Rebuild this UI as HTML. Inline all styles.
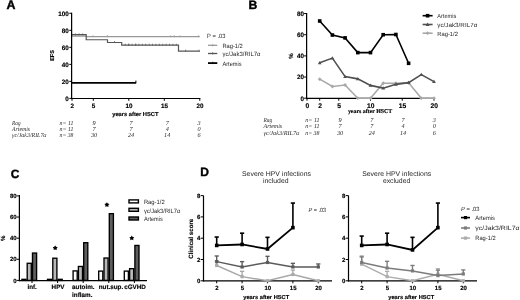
<!DOCTYPE html>
<html><head><meta charset="utf-8"><style>
html,body{margin:0;padding:0;background:#fff;}
body{width:520px;height:300px;overflow:hidden;font-family:"Liberation Sans", sans-serif;}
svg{display:block;will-change:transform;}
</style></head><body>
<svg width="520" height="300" viewBox="0 0 520 300" text-rendering="geometricPrecision">
<rect x="0" y="0" width="520" height="300" fill="#fff"/>
<text x="6.60" y="8.60" font-family="'Liberation Sans', sans-serif" font-size="12.4" font-weight="bold" font-style="normal" text-anchor="start" fill="#000" stroke="#000" stroke-width="0.4" >A</text>
<line x1="72.00" y1="36.11" x2="86.20" y2="36.11" stroke="#999" stroke-width="1.3"/>
<line x1="86.20" y1="36.70" x2="199.80" y2="36.70" stroke="#999" stroke-width="1.2"/>
<line x1="93.09" y1="35.20" x2="93.09" y2="37.20" stroke="#999" stroke-width="0.7"/>
<line x1="107.43" y1="35.20" x2="107.43" y2="37.20" stroke="#999" stroke-width="0.7"/>
<line x1="170.69" y1="35.20" x2="170.69" y2="37.20" stroke="#999" stroke-width="0.7"/>
<line x1="174.24" y1="35.20" x2="174.24" y2="37.20" stroke="#999" stroke-width="0.7"/>
<line x1="179.92" y1="35.20" x2="179.92" y2="37.20" stroke="#999" stroke-width="0.7"/>
<line x1="198.38" y1="35.20" x2="198.38" y2="37.20" stroke="#999" stroke-width="0.7"/>
<polyline points="72.00,34.66 86.20,34.66 86.20,39.77 107.50,39.77 107.50,42.49 121.70,42.49 121.70,45.21 178.50,45.21 178.50,51.17 199.80,51.17" fill="none" stroke="#555" stroke-width="1.2" stroke-linejoin="miter" />
<line x1="75.55" y1="33.42" x2="75.55" y2="35.42" stroke="#555" stroke-width="0.7"/>
<line x1="79.10" y1="33.42" x2="79.10" y2="35.42" stroke="#555" stroke-width="0.7"/>
<line x1="82.65" y1="33.42" x2="82.65" y2="35.42" stroke="#555" stroke-width="0.7"/>
<line x1="114.60" y1="40.99" x2="114.60" y2="42.99" stroke="#555" stroke-width="0.7"/>
<line x1="128.80" y1="43.71" x2="128.80" y2="45.71" stroke="#555" stroke-width="0.7"/>
<line x1="135.90" y1="43.71" x2="135.90" y2="45.71" stroke="#555" stroke-width="0.7"/>
<line x1="125.25" y1="43.71" x2="125.25" y2="45.71" stroke="#555" stroke-width="0.7"/>
<line x1="128.66" y1="43.71" x2="128.66" y2="45.71" stroke="#555" stroke-width="0.7"/>
<line x1="132.07" y1="43.71" x2="132.07" y2="45.71" stroke="#555" stroke-width="0.7"/>
<line x1="135.47" y1="43.71" x2="135.47" y2="45.71" stroke="#555" stroke-width="0.7"/>
<line x1="138.88" y1="43.71" x2="138.88" y2="45.71" stroke="#555" stroke-width="0.7"/>
<line x1="142.29" y1="43.71" x2="142.29" y2="45.71" stroke="#555" stroke-width="0.7"/>
<line x1="145.70" y1="43.71" x2="145.70" y2="45.71" stroke="#555" stroke-width="0.7"/>
<line x1="149.11" y1="43.71" x2="149.11" y2="45.71" stroke="#555" stroke-width="0.7"/>
<line x1="152.51" y1="43.71" x2="152.51" y2="45.71" stroke="#555" stroke-width="0.7"/>
<line x1="155.92" y1="43.71" x2="155.92" y2="45.71" stroke="#555" stroke-width="0.7"/>
<line x1="159.33" y1="43.71" x2="159.33" y2="45.71" stroke="#555" stroke-width="0.7"/>
<line x1="162.74" y1="43.71" x2="162.74" y2="45.71" stroke="#555" stroke-width="0.7"/>
<line x1="166.15" y1="43.71" x2="166.15" y2="45.71" stroke="#555" stroke-width="0.7"/>
<line x1="169.55" y1="43.71" x2="169.55" y2="45.71" stroke="#555" stroke-width="0.7"/>
<line x1="172.96" y1="43.71" x2="172.96" y2="45.71" stroke="#555" stroke-width="0.7"/>
<line x1="176.37" y1="43.71" x2="176.37" y2="45.71" stroke="#555" stroke-width="0.7"/>
<line x1="185.60" y1="49.67" x2="185.60" y2="51.67" stroke="#555" stroke-width="0.7"/>
<line x1="199.09" y1="49.67" x2="199.09" y2="51.67" stroke="#555" stroke-width="0.7"/>
<line x1="72.00" y1="82.83" x2="135.90" y2="82.83" stroke="#000" stroke-width="1.75"/>
<line x1="135.90" y1="80.63" x2="135.90" y2="83.43" stroke="#000" stroke-width="1.0"/>
<line x1="71.60" y1="12.70" x2="71.60" y2="99.10" stroke="#000" stroke-width="1.25"/>
<line x1="71.00" y1="98.50" x2="200.30" y2="98.50" stroke="#000" stroke-width="1.2"/>
<line x1="69.30" y1="98.40" x2="71.60" y2="98.40" stroke="#000" stroke-width="1"/>
<text x="68.80" y="100.70" font-family="'Liberation Sans', sans-serif" font-size="6.3" font-weight="bold" font-style="normal" text-anchor="end" fill="#000" stroke="#000" stroke-width="0.15" >0</text>
<line x1="69.30" y1="81.38" x2="71.60" y2="81.38" stroke="#000" stroke-width="1"/>
<text x="68.80" y="83.68" font-family="'Liberation Sans', sans-serif" font-size="6.3" font-weight="bold" font-style="normal" text-anchor="end" fill="#000" stroke="#000" stroke-width="0.15" >20</text>
<line x1="69.30" y1="64.36" x2="71.60" y2="64.36" stroke="#000" stroke-width="1"/>
<text x="68.80" y="66.66" font-family="'Liberation Sans', sans-serif" font-size="6.3" font-weight="bold" font-style="normal" text-anchor="end" fill="#000" stroke="#000" stroke-width="0.15" >40</text>
<line x1="69.30" y1="47.34" x2="71.60" y2="47.34" stroke="#000" stroke-width="1"/>
<text x="68.80" y="49.64" font-family="'Liberation Sans', sans-serif" font-size="6.3" font-weight="bold" font-style="normal" text-anchor="end" fill="#000" stroke="#000" stroke-width="0.15" >60</text>
<line x1="69.30" y1="30.32" x2="71.60" y2="30.32" stroke="#000" stroke-width="1"/>
<text x="68.80" y="32.62" font-family="'Liberation Sans', sans-serif" font-size="6.3" font-weight="bold" font-style="normal" text-anchor="end" fill="#000" stroke="#000" stroke-width="0.15" >80</text>
<line x1="69.30" y1="13.30" x2="71.60" y2="13.30" stroke="#000" stroke-width="1"/>
<text x="68.80" y="15.60" font-family="'Liberation Sans', sans-serif" font-size="6.3" font-weight="bold" font-style="normal" text-anchor="end" fill="#000" stroke="#000" stroke-width="0.15" >100</text>
<line x1="72.00" y1="98.40" x2="72.00" y2="100.80" stroke="#000" stroke-width="1"/>
<text x="72.30" y="107.80" font-family="'Liberation Sans', sans-serif" font-size="6.3" font-weight="bold" font-style="normal" text-anchor="middle" fill="#000" stroke="#000" stroke-width="0.15" >2</text>
<line x1="93.30" y1="98.40" x2="93.30" y2="100.80" stroke="#000" stroke-width="1"/>
<text x="93.60" y="107.80" font-family="'Liberation Sans', sans-serif" font-size="6.3" font-weight="bold" font-style="normal" text-anchor="middle" fill="#000" stroke="#000" stroke-width="0.15" >5</text>
<line x1="128.80" y1="98.40" x2="128.80" y2="100.80" stroke="#000" stroke-width="1"/>
<text x="129.10" y="107.80" font-family="'Liberation Sans', sans-serif" font-size="6.3" font-weight="bold" font-style="normal" text-anchor="middle" fill="#000" stroke="#000" stroke-width="0.15" >10</text>
<line x1="164.30" y1="98.40" x2="164.30" y2="100.80" stroke="#000" stroke-width="1"/>
<text x="164.60" y="107.80" font-family="'Liberation Sans', sans-serif" font-size="6.3" font-weight="bold" font-style="normal" text-anchor="middle" fill="#000" stroke="#000" stroke-width="0.15" >15</text>
<line x1="199.80" y1="98.40" x2="199.80" y2="100.80" stroke="#000" stroke-width="1"/>
<text x="200.10" y="107.80" font-family="'Liberation Sans', sans-serif" font-size="6.3" font-weight="bold" font-style="normal" text-anchor="middle" fill="#000" stroke="#000" stroke-width="0.15" >20</text>
<text x="112.20" y="115.80" font-family="'Liberation Sans', sans-serif" font-size="5.75" font-weight="bold" font-style="normal" text-anchor="start" fill="#000" stroke="#000" stroke-width="0.15" >years after HSCT</text>
<text x="54.30" y="55.40" font-family="'Liberation Sans', sans-serif" font-size="5.6" font-weight="bold" font-style="normal" text-anchor="middle" fill="#000" stroke="#000" stroke-width="0.15" transform="rotate(-90 54.30 55.40)" >EFS</text>
<text x="207.10" y="37.80" font-family="'Liberation Sans', sans-serif" font-size="6.1" font-weight="normal" font-style="normal" text-anchor="start" fill="#262626" textLength="18.40" lengthAdjust="spacingAndGlyphs" >P = .03</text>
<line x1="208.00" y1="45.30" x2="217.30" y2="45.30" stroke="#999" stroke-width="1.3"/>
<line x1="212.70" y1="44.00" x2="212.70" y2="46.30" stroke="#999" stroke-width="0.8"/>
<text x="222.40" y="47.80" font-family="'Liberation Sans', sans-serif" font-size="6.1" font-weight="normal" font-style="normal" text-anchor="start" fill="#262626" textLength="20.40" lengthAdjust="spacingAndGlyphs" >Rag-1/2</text>
<line x1="208.00" y1="53.50" x2="217.30" y2="53.50" stroke="#555" stroke-width="1.3"/>
<line x1="212.70" y1="52.20" x2="212.70" y2="54.50" stroke="#555" stroke-width="0.8"/>
<text x="222.40" y="55.80" font-family="'Liberation Sans', sans-serif" font-size="6.1" font-weight="normal" font-style="normal" text-anchor="start" fill="#262626" textLength="38.20" lengthAdjust="spacingAndGlyphs" >γc/Jak3/RIL7α</text>
<line x1="208.00" y1="63.10" x2="217.30" y2="63.10" stroke="#000" stroke-width="1.8"/>
<line x1="212.70" y1="61.80" x2="212.70" y2="64.10" stroke="#000" stroke-width="0.8"/>
<text x="222.40" y="65.70" font-family="'Liberation Sans', sans-serif" font-size="6.1" font-weight="normal" font-style="normal" text-anchor="start" fill="#262626" textLength="19.20" lengthAdjust="spacingAndGlyphs" >Artemis</text>
<text x="12.10" y="124.70" font-family="'Liberation Serif', serif" font-size="6.2" font-weight="normal" font-style="italic" text-anchor="start" fill="#262626" textLength="8.40" lengthAdjust="spacingAndGlyphs" >Rag</text>
<text x="59.60" y="124.70" font-family="'Liberation Serif', serif" font-size="6.2" font-weight="normal" font-style="italic" text-anchor="start" fill="#262626" textLength="13.80" lengthAdjust="spacingAndGlyphs" >n= 11</text>
<text x="94.00" y="124.70" font-family="'Liberation Serif', serif" font-size="6.2" font-weight="normal" font-style="italic" text-anchor="middle" fill="#262626" >9</text>
<text x="131.00" y="124.70" font-family="'Liberation Serif', serif" font-size="6.2" font-weight="normal" font-style="italic" text-anchor="middle" fill="#262626" >7</text>
<text x="167.20" y="124.70" font-family="'Liberation Serif', serif" font-size="6.2" font-weight="normal" font-style="italic" text-anchor="middle" fill="#262626" >7</text>
<text x="199.00" y="124.70" font-family="'Liberation Serif', serif" font-size="6.2" font-weight="normal" font-style="italic" text-anchor="middle" fill="#262626" >3</text>
<text x="12.10" y="130.80" font-family="'Liberation Serif', serif" font-size="6.2" font-weight="normal" font-style="italic" text-anchor="start" fill="#262626" textLength="17.90" lengthAdjust="spacingAndGlyphs" >Artemis</text>
<text x="59.60" y="130.80" font-family="'Liberation Serif', serif" font-size="6.2" font-weight="normal" font-style="italic" text-anchor="start" fill="#262626" textLength="13.80" lengthAdjust="spacingAndGlyphs" >n= 11</text>
<text x="94.00" y="130.80" font-family="'Liberation Serif', serif" font-size="6.2" font-weight="normal" font-style="italic" text-anchor="middle" fill="#262626" >7</text>
<text x="131.00" y="130.80" font-family="'Liberation Serif', serif" font-size="6.2" font-weight="normal" font-style="italic" text-anchor="middle" fill="#262626" >7</text>
<text x="167.20" y="130.80" font-family="'Liberation Serif', serif" font-size="6.2" font-weight="normal" font-style="italic" text-anchor="middle" fill="#262626" >4</text>
<text x="199.00" y="130.80" font-family="'Liberation Serif', serif" font-size="6.2" font-weight="normal" font-style="italic" text-anchor="middle" fill="#262626" >0</text>
<text x="12.10" y="137.20" font-family="'Liberation Serif', serif" font-size="6.2" font-weight="normal" font-style="italic" text-anchor="start" fill="#262626" textLength="34.40" lengthAdjust="spacingAndGlyphs" >γc/Jak3/RIL7α</text>
<text x="59.60" y="137.20" font-family="'Liberation Serif', serif" font-size="6.2" font-weight="normal" font-style="italic" text-anchor="start" fill="#262626" textLength="13.80" lengthAdjust="spacingAndGlyphs" >n= 38</text>
<text x="94.00" y="137.20" font-family="'Liberation Serif', serif" font-size="6.2" font-weight="normal" font-style="italic" text-anchor="middle" fill="#262626" >30</text>
<text x="131.00" y="137.20" font-family="'Liberation Serif', serif" font-size="6.2" font-weight="normal" font-style="italic" text-anchor="middle" fill="#262626" >24</text>
<text x="167.20" y="137.20" font-family="'Liberation Serif', serif" font-size="6.2" font-weight="normal" font-style="italic" text-anchor="middle" fill="#262626" >14</text>
<text x="199.00" y="137.20" font-family="'Liberation Serif', serif" font-size="6.2" font-weight="normal" font-style="italic" text-anchor="middle" fill="#262626" >6</text>
<text x="248.50" y="8.50" font-family="'Liberation Sans', sans-serif" font-size="12.2" font-weight="bold" font-style="normal" text-anchor="start" fill="#000" stroke="#000" stroke-width="0.4" >B</text>
<line x1="306.60" y1="13.00" x2="306.60" y2="99.00" stroke="#000" stroke-width="1.25"/>
<line x1="306.00" y1="98.40" x2="434.50" y2="98.40" stroke="#000" stroke-width="1.2"/>
<line x1="304.10" y1="98.20" x2="306.60" y2="98.20" stroke="#000" stroke-width="1"/>
<text x="303.90" y="100.50" font-family="'Liberation Sans', sans-serif" font-size="6.3" font-weight="bold" font-style="normal" text-anchor="end" fill="#000" stroke="#000" stroke-width="0.15" >0</text>
<line x1="304.10" y1="77.04" x2="306.60" y2="77.04" stroke="#000" stroke-width="1"/>
<text x="303.90" y="79.34" font-family="'Liberation Sans', sans-serif" font-size="6.3" font-weight="bold" font-style="normal" text-anchor="end" fill="#000" stroke="#000" stroke-width="0.15" >20</text>
<line x1="304.10" y1="55.88" x2="306.60" y2="55.88" stroke="#000" stroke-width="1"/>
<text x="303.90" y="58.18" font-family="'Liberation Sans', sans-serif" font-size="6.3" font-weight="bold" font-style="normal" text-anchor="end" fill="#000" stroke="#000" stroke-width="0.15" >40</text>
<line x1="304.10" y1="34.72" x2="306.60" y2="34.72" stroke="#000" stroke-width="1"/>
<text x="303.90" y="37.02" font-family="'Liberation Sans', sans-serif" font-size="6.3" font-weight="bold" font-style="normal" text-anchor="end" fill="#000" stroke="#000" stroke-width="0.15" >60</text>
<line x1="304.10" y1="13.56" x2="306.60" y2="13.56" stroke="#000" stroke-width="1"/>
<text x="303.90" y="15.86" font-family="'Liberation Sans', sans-serif" font-size="6.3" font-weight="bold" font-style="normal" text-anchor="end" fill="#000" stroke="#000" stroke-width="0.15" >80</text>
<line x1="307.00" y1="98.20" x2="307.00" y2="100.70" stroke="#000" stroke-width="1"/>
<text x="307.30" y="107.60" font-family="'Liberation Sans', sans-serif" font-size="6.7" font-weight="bold" font-style="normal" text-anchor="middle" fill="#000" stroke="#000" stroke-width="0.15" >0</text>
<line x1="319.70" y1="98.20" x2="319.70" y2="100.70" stroke="#000" stroke-width="1"/>
<text x="320.00" y="107.60" font-family="'Liberation Sans', sans-serif" font-size="6.7" font-weight="bold" font-style="normal" text-anchor="middle" fill="#000" stroke="#000" stroke-width="0.15" >2</text>
<line x1="338.75" y1="98.20" x2="338.75" y2="100.70" stroke="#000" stroke-width="1"/>
<text x="339.05" y="107.60" font-family="'Liberation Sans', sans-serif" font-size="6.7" font-weight="bold" font-style="normal" text-anchor="middle" fill="#000" stroke="#000" stroke-width="0.15" >5</text>
<line x1="370.50" y1="98.20" x2="370.50" y2="100.70" stroke="#000" stroke-width="1"/>
<text x="370.80" y="107.60" font-family="'Liberation Sans', sans-serif" font-size="6.7" font-weight="bold" font-style="normal" text-anchor="middle" fill="#000" stroke="#000" stroke-width="0.15" >10</text>
<line x1="402.25" y1="98.20" x2="402.25" y2="100.70" stroke="#000" stroke-width="1"/>
<text x="402.55" y="107.60" font-family="'Liberation Sans', sans-serif" font-size="6.7" font-weight="bold" font-style="normal" text-anchor="middle" fill="#000" stroke="#000" stroke-width="0.15" >15</text>
<line x1="434.00" y1="98.20" x2="434.00" y2="100.70" stroke="#000" stroke-width="1"/>
<text x="434.30" y="107.60" font-family="'Liberation Sans', sans-serif" font-size="6.7" font-weight="bold" font-style="normal" text-anchor="middle" fill="#000" stroke="#000" stroke-width="0.15" >20</text>
<text x="347.90" y="112.60" font-family="'Liberation Serif', serif" font-size="5.9" font-weight="bold" font-style="normal" text-anchor="start" fill="#000" stroke="#000" stroke-width="0.15" >years after HSCT</text>
<text x="292.80" y="56.00" font-family="'Liberation Sans', sans-serif" font-size="6" font-weight="bold" font-style="normal" text-anchor="middle" fill="#000" stroke="#000" stroke-width="0.15" transform="rotate(-90 292.80 56.00)" >%</text>
<polyline points="319.70,79.16 332.40,86.46 345.10,84.97 357.80,98.20 370.50,98.20 383.20,83.28 395.90,83.28 408.60,82.75 421.30,98.20 434.00,98.20" fill="none" stroke="#a8a8a8" stroke-width="1.6" stroke-linejoin="miter" />
<polygon points="319.70,77.24 321.62,79.16 319.70,81.08 317.78,79.16" fill="#a8a8a8"/>
<polygon points="332.40,84.54 334.32,86.46 332.40,88.38 330.48,86.46" fill="#a8a8a8"/>
<polygon points="345.10,83.05 347.02,84.97 345.10,86.89 343.18,84.97" fill="#a8a8a8"/>
<polygon points="357.80,96.28 359.72,98.20 357.80,100.12 355.88,98.20" fill="#a8a8a8"/>
<polygon points="370.50,96.28 372.42,98.20 370.50,100.12 368.58,98.20" fill="#a8a8a8"/>
<polygon points="383.20,81.36 385.12,83.28 383.20,85.20 381.28,83.28" fill="#a8a8a8"/>
<polygon points="395.90,81.36 397.82,83.28 395.90,85.20 393.98,83.28" fill="#a8a8a8"/>
<polygon points="408.60,80.83 410.52,82.75 408.60,84.67 406.68,82.75" fill="#a8a8a8"/>
<polygon points="421.30,96.28 423.22,98.20 421.30,100.12 419.38,98.20" fill="#a8a8a8"/>
<polygon points="434.00,96.28 435.92,98.20 434.00,100.12 432.08,98.20" fill="#a8a8a8"/>
<polyline points="319.70,62.86 332.40,58.10 345.10,76.62 357.80,78.84 370.50,85.40 383.20,88.15 395.90,84.34 408.60,82.65 421.30,74.61 434.00,81.59" fill="none" stroke="#505050" stroke-width="1.6" stroke-linejoin="miter" />
<polygon points="319.70,60.94 317.78,64.30 321.62,64.30" fill="#505050"/>
<polygon points="332.40,56.18 330.48,59.54 334.32,59.54" fill="#505050"/>
<polygon points="345.10,74.70 343.18,78.06 347.02,78.06" fill="#505050"/>
<polygon points="357.80,76.92 355.88,80.28 359.72,80.28" fill="#505050"/>
<polygon points="370.50,83.48 368.58,86.84 372.42,86.84" fill="#505050"/>
<polygon points="383.20,86.23 381.28,89.59 385.12,89.59" fill="#505050"/>
<polygon points="395.90,82.42 393.98,85.78 397.82,85.78" fill="#505050"/>
<polygon points="408.60,80.73 406.68,84.09 410.52,84.09" fill="#505050"/>
<polygon points="421.30,72.69 419.38,76.05 423.22,76.05" fill="#505050"/>
<polygon points="434.00,79.67 432.08,83.03 435.92,83.03" fill="#505050"/>
<polyline points="319.70,21.00 332.40,35.04 345.10,37.89 357.80,52.60 370.50,52.60 383.20,34.72 395.90,34.51 408.60,63.29" fill="none" stroke="#000" stroke-width="1.6" stroke-linejoin="miter" />
<rect x="317.90" y="19.20" width="3.6" height="3.6" fill="#000"/>
<rect x="330.60" y="33.24" width="3.6" height="3.6" fill="#000"/>
<rect x="343.30" y="36.09" width="3.6" height="3.6" fill="#000"/>
<rect x="356.00" y="50.80" width="3.6" height="3.6" fill="#000"/>
<rect x="368.70" y="50.80" width="3.6" height="3.6" fill="#000"/>
<rect x="381.40" y="32.92" width="3.6" height="3.6" fill="#000"/>
<rect x="394.10" y="32.71" width="3.6" height="3.6" fill="#000"/>
<rect x="406.80" y="61.49" width="3.6" height="3.6" fill="#000"/>
<line x1="422.60" y1="15.70" x2="432.60" y2="15.70" stroke="#000" stroke-width="1.6"/>
<rect x="425.80" y="13.90" width="3.6" height="3.6" fill="#000"/>
<text x="437.30" y="18.00" font-family="'Liberation Sans', sans-serif" font-size="6.0" font-weight="normal" font-style="normal" text-anchor="start" fill="#262626" textLength="18.90" lengthAdjust="spacingAndGlyphs" >Artemis</text>
<line x1="422.60" y1="24.50" x2="432.60" y2="24.50" stroke="#505050" stroke-width="1.6"/>
<polygon points="427.60,22.58 425.68,25.94 429.52,25.94" fill="#505050"/>
<text x="437.30" y="26.80" font-family="'Liberation Sans', sans-serif" font-size="6.0" font-weight="normal" font-style="normal" text-anchor="start" fill="#262626" textLength="40.00" lengthAdjust="spacingAndGlyphs" >γc/Jak3/RIL7α</text>
<line x1="422.60" y1="33.20" x2="432.60" y2="33.20" stroke="#a8a8a8" stroke-width="1.6"/>
<polygon points="427.60,31.28 429.52,33.20 427.60,35.12 425.68,33.20" fill="#a8a8a8"/>
<text x="437.30" y="35.50" font-family="'Liberation Sans', sans-serif" font-size="6.0" font-weight="normal" font-style="normal" text-anchor="start" fill="#262626" textLength="20.60" lengthAdjust="spacingAndGlyphs" >Rag-1/2</text>
<text x="263.50" y="121.50" font-family="'Liberation Serif', serif" font-size="6.2" font-weight="normal" font-style="italic" text-anchor="start" fill="#262626" textLength="8.74" lengthAdjust="spacingAndGlyphs" >Rag</text>
<text x="305.20" y="121.50" font-family="'Liberation Serif', serif" font-size="6.2" font-weight="normal" font-style="italic" text-anchor="start" fill="#262626" textLength="14.35" lengthAdjust="spacingAndGlyphs" >n= 11</text>
<text x="340.00" y="121.50" font-family="'Liberation Serif', serif" font-size="6.2" font-weight="normal" font-style="italic" text-anchor="middle" fill="#262626" >9</text>
<text x="371.80" y="121.50" font-family="'Liberation Serif', serif" font-size="6.2" font-weight="normal" font-style="italic" text-anchor="middle" fill="#262626" >7</text>
<text x="403.00" y="121.50" font-family="'Liberation Serif', serif" font-size="6.2" font-weight="normal" font-style="italic" text-anchor="middle" fill="#262626" >7</text>
<text x="434.30" y="121.50" font-family="'Liberation Serif', serif" font-size="6.2" font-weight="normal" font-style="italic" text-anchor="middle" fill="#262626" >3</text>
<text x="263.50" y="128.00" font-family="'Liberation Serif', serif" font-size="6.2" font-weight="normal" font-style="italic" text-anchor="start" fill="#262626" textLength="18.62" lengthAdjust="spacingAndGlyphs" >Artemis</text>
<text x="305.20" y="128.00" font-family="'Liberation Serif', serif" font-size="6.2" font-weight="normal" font-style="italic" text-anchor="start" fill="#262626" textLength="14.35" lengthAdjust="spacingAndGlyphs" >n= 11</text>
<text x="340.00" y="128.00" font-family="'Liberation Serif', serif" font-size="6.2" font-weight="normal" font-style="italic" text-anchor="middle" fill="#262626" >7</text>
<text x="371.80" y="128.00" font-family="'Liberation Serif', serif" font-size="6.2" font-weight="normal" font-style="italic" text-anchor="middle" fill="#262626" >7</text>
<text x="403.00" y="128.00" font-family="'Liberation Serif', serif" font-size="6.2" font-weight="normal" font-style="italic" text-anchor="middle" fill="#262626" >4</text>
<text x="434.30" y="128.00" font-family="'Liberation Serif', serif" font-size="6.2" font-weight="normal" font-style="italic" text-anchor="middle" fill="#262626" >0</text>
<text x="263.50" y="134.80" font-family="'Liberation Serif', serif" font-size="6.2" font-weight="normal" font-style="italic" text-anchor="start" fill="#262626" textLength="35.78" lengthAdjust="spacingAndGlyphs" >γc/Jak3/RIL7α</text>
<text x="305.20" y="134.80" font-family="'Liberation Serif', serif" font-size="6.2" font-weight="normal" font-style="italic" text-anchor="start" fill="#262626" textLength="14.35" lengthAdjust="spacingAndGlyphs" >n= 38</text>
<text x="340.00" y="134.80" font-family="'Liberation Serif', serif" font-size="6.2" font-weight="normal" font-style="italic" text-anchor="middle" fill="#262626" >30</text>
<text x="371.80" y="134.80" font-family="'Liberation Serif', serif" font-size="6.2" font-weight="normal" font-style="italic" text-anchor="middle" fill="#262626" >24</text>
<text x="403.00" y="134.80" font-family="'Liberation Serif', serif" font-size="6.2" font-weight="normal" font-style="italic" text-anchor="middle" fill="#262626" >14</text>
<text x="434.30" y="134.80" font-family="'Liberation Serif', serif" font-size="6.2" font-weight="normal" font-style="italic" text-anchor="middle" fill="#262626" >6</text>
<text x="10.70" y="178.10" font-family="'Liberation Sans', sans-serif" font-size="12.0" font-weight="bold" font-style="normal" text-anchor="start" fill="#000" stroke="#000" stroke-width="0.4" >C</text>
<line x1="19.40" y1="195.00" x2="19.40" y2="281.20" stroke="#000" stroke-width="1.25"/>
<line x1="18.80" y1="280.60" x2="147.00" y2="280.60" stroke="#000" stroke-width="1.2"/>
<line x1="16.60" y1="280.40" x2="19.40" y2="280.40" stroke="#000" stroke-width="1"/>
<text x="16.60" y="282.60" font-family="'Liberation Sans', sans-serif" font-size="6.0" font-weight="bold" font-style="normal" text-anchor="end" fill="#000" stroke="#000" stroke-width="0.15" >0</text>
<line x1="16.60" y1="259.28" x2="19.40" y2="259.28" stroke="#000" stroke-width="1"/>
<text x="16.60" y="261.48" font-family="'Liberation Sans', sans-serif" font-size="6.0" font-weight="bold" font-style="normal" text-anchor="end" fill="#000" stroke="#000" stroke-width="0.15" >20</text>
<line x1="16.60" y1="238.16" x2="19.40" y2="238.16" stroke="#000" stroke-width="1"/>
<text x="16.60" y="240.36" font-family="'Liberation Sans', sans-serif" font-size="6.0" font-weight="bold" font-style="normal" text-anchor="end" fill="#000" stroke="#000" stroke-width="0.15" >40</text>
<line x1="16.60" y1="217.04" x2="19.40" y2="217.04" stroke="#000" stroke-width="1"/>
<text x="16.60" y="219.24" font-family="'Liberation Sans', sans-serif" font-size="6.0" font-weight="bold" font-style="normal" text-anchor="end" fill="#000" stroke="#000" stroke-width="0.15" >60</text>
<line x1="16.60" y1="195.92" x2="19.40" y2="195.92" stroke="#000" stroke-width="1"/>
<text x="16.60" y="198.12" font-family="'Liberation Sans', sans-serif" font-size="6.0" font-weight="bold" font-style="normal" text-anchor="end" fill="#000" stroke="#000" stroke-width="0.15" >80</text>
<text x="5.30" y="238.20" font-family="'Liberation Sans', sans-serif" font-size="6" font-weight="bold" font-style="normal" text-anchor="middle" fill="#000" stroke="#000" stroke-width="0.15" transform="rotate(-90 5.30 238.20)" >%</text>
<line x1="32.00" y1="280.60" x2="32.00" y2="283.00" stroke="#000" stroke-width="1"/>
<rect x="21.90" y="279.34" width="4.10" height="1.06" fill="#fff" stroke="#000" stroke-width="1.35"/>
<rect x="27.20" y="263.29" width="4.10" height="17.11" fill="#b8b8b8" stroke="#000" stroke-width="1.35"/>
<rect x="32.50" y="253.05" width="4.10" height="27.35" fill="#5e5e5e" stroke="#000" stroke-width="1.35"/>
<line x1="57.60" y1="280.60" x2="57.60" y2="283.00" stroke="#000" stroke-width="1"/>
<rect x="47.50" y="279.34" width="4.10" height="1.06" fill="#fff" stroke="#000" stroke-width="1.35"/>
<rect x="52.80" y="258.22" width="4.10" height="22.18" fill="#b8b8b8" stroke="#000" stroke-width="1.35"/>
<rect x="58.10" y="279.34" width="4.10" height="1.06" fill="#5e5e5e" stroke="#000" stroke-width="1.35"/>
<line x1="83.20" y1="280.60" x2="83.20" y2="283.00" stroke="#000" stroke-width="1"/>
<rect x="73.10" y="270.90" width="4.10" height="9.50" fill="#fff" stroke="#000" stroke-width="1.35"/>
<rect x="78.40" y="266.46" width="4.10" height="13.94" fill="#b8b8b8" stroke="#000" stroke-width="1.35"/>
<rect x="83.70" y="242.70" width="4.10" height="37.70" fill="#5e5e5e" stroke="#000" stroke-width="1.35"/>
<line x1="108.80" y1="280.60" x2="108.80" y2="283.00" stroke="#000" stroke-width="1"/>
<rect x="98.70" y="271.11" width="4.10" height="9.29" fill="#fff" stroke="#000" stroke-width="1.35"/>
<rect x="104.00" y="258.01" width="4.10" height="22.39" fill="#b8b8b8" stroke="#000" stroke-width="1.35"/>
<rect x="109.30" y="213.66" width="4.10" height="66.74" fill="#5e5e5e" stroke="#000" stroke-width="1.35"/>
<line x1="134.40" y1="280.60" x2="134.40" y2="283.00" stroke="#000" stroke-width="1"/>
<rect x="124.30" y="271.11" width="4.10" height="9.29" fill="#fff" stroke="#000" stroke-width="1.35"/>
<rect x="129.60" y="268.68" width="4.10" height="11.72" fill="#b8b8b8" stroke="#000" stroke-width="1.35"/>
<rect x="134.90" y="245.45" width="4.10" height="34.95" fill="#5e5e5e" stroke="#000" stroke-width="1.35"/>
<text x="27.40" y="289.30" font-family="'Liberation Sans', sans-serif" font-size="6.3" font-weight="bold" font-style="normal" text-anchor="start" fill="#000" stroke="#000" stroke-width="0.15" >inf.</text>
<text x="51.60" y="289.30" font-family="'Liberation Sans', sans-serif" font-size="6.3" font-weight="bold" font-style="normal" text-anchor="start" fill="#000" stroke="#000" stroke-width="0.15" >HPV</text>
<text x="72.10" y="289.30" font-family="'Liberation Sans', sans-serif" font-size="6.3" font-weight="bold" font-style="normal" text-anchor="start" fill="#000" stroke="#000" stroke-width="0.15" >autoim.</text>
<text x="98.70" y="289.30" font-family="'Liberation Sans', sans-serif" font-size="6.3" font-weight="bold" font-style="normal" text-anchor="start" fill="#000" stroke="#000" stroke-width="0.15" >nut.sup.</text>
<text x="124.20" y="289.30" font-family="'Liberation Sans', sans-serif" font-size="6.3" font-weight="bold" font-style="normal" text-anchor="start" fill="#000" stroke="#000" stroke-width="0.15" >cGVHD</text>
<text x="72.10" y="297.00" font-family="'Liberation Sans', sans-serif" font-size="6.3" font-weight="bold" font-style="normal" text-anchor="start" fill="#000" stroke="#000" stroke-width="0.15" >inflam.</text>
<polygon points="55.20,245.40 56.08,246.79 57.67,247.20 56.63,248.46 56.73,250.10 55.20,249.50 53.67,250.10 53.77,248.46 52.73,247.20 54.32,246.79" fill="#000"/>
<polygon points="106.90,202.20 107.78,203.59 109.37,204.00 108.33,205.26 108.43,206.90 106.90,206.30 105.37,206.90 105.47,205.26 104.43,204.00 106.02,203.59" fill="#000"/>
<polygon points="131.80,235.50 132.68,236.89 134.27,237.30 133.23,238.56 133.33,240.20 131.80,239.60 130.27,240.20 130.37,238.56 129.33,237.30 130.92,236.89" fill="#000"/>
<rect x="129.00" y="199.90" width="9.40" height="3.00" fill="#fff" stroke="#000" stroke-width="1.4"/>
<text x="143.90" y="203.50" font-family="'Liberation Sans', sans-serif" font-size="6.1" font-weight="normal" font-style="normal" text-anchor="start" fill="#262626" textLength="20.80" lengthAdjust="spacingAndGlyphs" >Rag-1/2</text>
<rect x="129.00" y="208.30" width="9.40" height="3.00" fill="#b8b8b8" stroke="#000" stroke-width="1.4"/>
<text x="143.90" y="212.60" font-family="'Liberation Sans', sans-serif" font-size="6.1" font-weight="normal" font-style="normal" text-anchor="start" fill="#262626" textLength="36.40" lengthAdjust="spacingAndGlyphs" >γc/Jak3/RIL7α</text>
<rect x="129.00" y="217.00" width="9.40" height="3.00" fill="#5e5e5e" stroke="#000" stroke-width="1.4"/>
<text x="143.90" y="221.20" font-family="'Liberation Sans', sans-serif" font-size="6.1" font-weight="normal" font-style="normal" text-anchor="start" fill="#262626" textLength="18.90" lengthAdjust="spacingAndGlyphs" >Artemis</text>
<text x="200.30" y="176.20" font-family="'Liberation Sans', sans-serif" font-size="12.0" font-weight="bold" font-style="normal" text-anchor="start" fill="#000" stroke="#000" stroke-width="0.4" >D</text>
<line x1="203.50" y1="195.60" x2="203.50" y2="281.40" stroke="#000" stroke-width="1.2"/>
<line x1="202.90" y1="280.80" x2="332.00" y2="280.80" stroke="#000" stroke-width="1.2"/>
<line x1="200.70" y1="280.80" x2="203.50" y2="280.80" stroke="#000" stroke-width="1"/>
<text x="200.30" y="283.00" font-family="'Liberation Sans', sans-serif" font-size="6.0" font-weight="bold" font-style="normal" text-anchor="end" fill="#000" stroke="#000" stroke-width="0.15" >0</text>
<line x1="200.70" y1="259.50" x2="203.50" y2="259.50" stroke="#000" stroke-width="1"/>
<text x="200.30" y="261.70" font-family="'Liberation Sans', sans-serif" font-size="6.0" font-weight="bold" font-style="normal" text-anchor="end" fill="#000" stroke="#000" stroke-width="0.15" >2</text>
<line x1="200.70" y1="238.20" x2="203.50" y2="238.20" stroke="#000" stroke-width="1"/>
<text x="200.30" y="240.40" font-family="'Liberation Sans', sans-serif" font-size="6.0" font-weight="bold" font-style="normal" text-anchor="end" fill="#000" stroke="#000" stroke-width="0.15" >4</text>
<line x1="200.70" y1="216.90" x2="203.50" y2="216.90" stroke="#000" stroke-width="1"/>
<text x="200.30" y="219.10" font-family="'Liberation Sans', sans-serif" font-size="6.0" font-weight="bold" font-style="normal" text-anchor="end" fill="#000" stroke="#000" stroke-width="0.15" >6</text>
<line x1="200.70" y1="195.60" x2="203.50" y2="195.60" stroke="#000" stroke-width="1"/>
<text x="200.30" y="197.80" font-family="'Liberation Sans', sans-serif" font-size="6.0" font-weight="bold" font-style="normal" text-anchor="end" fill="#000" stroke="#000" stroke-width="0.15" >8</text>
<line x1="216.70" y1="280.80" x2="216.70" y2="283.30" stroke="#000" stroke-width="1"/>
<text x="217.00" y="289.90" font-family="'Liberation Sans', sans-serif" font-size="6.0" font-weight="bold" font-style="normal" text-anchor="middle" fill="#000" stroke="#000" stroke-width="0.15" >2</text>
<line x1="242.10" y1="280.80" x2="242.10" y2="283.30" stroke="#000" stroke-width="1"/>
<text x="242.40" y="289.90" font-family="'Liberation Sans', sans-serif" font-size="6.0" font-weight="bold" font-style="normal" text-anchor="middle" fill="#000" stroke="#000" stroke-width="0.15" >5</text>
<line x1="267.50" y1="280.80" x2="267.50" y2="283.30" stroke="#000" stroke-width="1"/>
<text x="267.80" y="289.90" font-family="'Liberation Sans', sans-serif" font-size="6.0" font-weight="bold" font-style="normal" text-anchor="middle" fill="#000" stroke="#000" stroke-width="0.15" >10</text>
<line x1="292.90" y1="280.80" x2="292.90" y2="283.30" stroke="#000" stroke-width="1"/>
<text x="293.20" y="289.90" font-family="'Liberation Sans', sans-serif" font-size="6.0" font-weight="bold" font-style="normal" text-anchor="middle" fill="#000" stroke="#000" stroke-width="0.15" >15</text>
<line x1="318.30" y1="280.80" x2="318.30" y2="283.30" stroke="#000" stroke-width="1"/>
<text x="318.60" y="289.90" font-family="'Liberation Sans', sans-serif" font-size="6.0" font-weight="bold" font-style="normal" text-anchor="middle" fill="#000" stroke="#000" stroke-width="0.15" >20</text>
<text x="243.30" y="299.20" font-family="'Liberation Sans', sans-serif" font-size="5.7" font-weight="bold" font-style="normal" text-anchor="start" fill="#000" stroke="#000" stroke-width="0.15" >years after HSCT</text>
<text x="242.00" y="175.90" font-family="'Liberation Sans', sans-serif" font-size="6.85" font-weight="normal" font-style="normal" text-anchor="start" fill="#262626" textLength="69.00" lengthAdjust="spacingAndGlyphs" >Severe HPV infections</text>
<text x="263.00" y="183.30" font-family="'Liberation Sans', sans-serif" font-size="6.85" font-weight="normal" font-style="normal" text-anchor="start" fill="#262626" >included</text>
<polyline points="216.70,265.46 242.10,276.65 267.50,280.80 292.90,274.52 318.30,280.80" fill="none" stroke="#a8a8a8" stroke-width="1.5" stroke-linejoin="miter" />
<line x1="216.70" y1="265.46" x2="216.70" y2="260.99" stroke="#a8a8a8" stroke-width="1.35"/>
<line x1="214.60" y1="260.99" x2="218.80" y2="260.99" stroke="#a8a8a8" stroke-width="1.35"/>
<rect x="215.10" y="263.86" width="3.2" height="3.2" fill="#a8a8a8"/>
<line x1="242.10" y1="276.65" x2="242.10" y2="271.32" stroke="#a8a8a8" stroke-width="1.35"/>
<line x1="240.00" y1="271.32" x2="244.20" y2="271.32" stroke="#a8a8a8" stroke-width="1.35"/>
<rect x="240.50" y="275.05" width="3.2" height="3.2" fill="#a8a8a8"/>
<rect x="265.90" y="279.20" width="3.2" height="3.2" fill="#a8a8a8"/>
<line x1="292.90" y1="274.52" x2="292.90" y2="270.04" stroke="#a8a8a8" stroke-width="1.35"/>
<line x1="290.80" y1="270.04" x2="295.00" y2="270.04" stroke="#a8a8a8" stroke-width="1.35"/>
<rect x="291.30" y="272.92" width="3.2" height="3.2" fill="#a8a8a8"/>
<rect x="316.70" y="279.20" width="3.2" height="3.2" fill="#a8a8a8"/>
<polyline points="216.70,261.63 242.10,266.95 267.50,262.48 292.90,266.95 318.30,266.95" fill="none" stroke="#5a5a5a" stroke-width="1.5" stroke-linejoin="miter" />
<line x1="216.70" y1="261.63" x2="216.70" y2="255.99" stroke="#5a5a5a" stroke-width="1.35"/>
<line x1="214.60" y1="255.99" x2="218.80" y2="255.99" stroke="#5a5a5a" stroke-width="1.35"/>
<rect x="215.10" y="260.03" width="3.2" height="3.2" fill="#5a5a5a"/>
<line x1="242.10" y1="266.95" x2="242.10" y2="261.63" stroke="#5a5a5a" stroke-width="1.35"/>
<line x1="240.00" y1="261.63" x2="244.20" y2="261.63" stroke="#5a5a5a" stroke-width="1.35"/>
<rect x="240.50" y="265.35" width="3.2" height="3.2" fill="#5a5a5a"/>
<line x1="267.50" y1="262.48" x2="267.50" y2="256.31" stroke="#5a5a5a" stroke-width="1.35"/>
<line x1="265.40" y1="256.31" x2="269.60" y2="256.31" stroke="#5a5a5a" stroke-width="1.35"/>
<rect x="265.90" y="260.88" width="3.2" height="3.2" fill="#5a5a5a"/>
<line x1="292.90" y1="266.95" x2="292.90" y2="263.33" stroke="#5a5a5a" stroke-width="1.35"/>
<line x1="290.80" y1="263.33" x2="295.00" y2="263.33" stroke="#5a5a5a" stroke-width="1.35"/>
<rect x="291.30" y="265.35" width="3.2" height="3.2" fill="#5a5a5a"/>
<line x1="318.30" y1="266.95" x2="318.30" y2="263.97" stroke="#5a5a5a" stroke-width="1.35"/>
<line x1="316.20" y1="263.97" x2="320.40" y2="263.97" stroke="#5a5a5a" stroke-width="1.35"/>
<rect x="316.70" y="265.35" width="3.2" height="3.2" fill="#5a5a5a"/>
<polyline points="216.70,245.44 242.10,244.48 267.50,248.96 292.90,227.66" fill="none" stroke="#000" stroke-width="1.8" stroke-linejoin="miter" />
<line x1="216.70" y1="245.44" x2="216.70" y2="237.03" stroke="#000" stroke-width="1.6"/>
<line x1="214.60" y1="237.03" x2="218.80" y2="237.03" stroke="#000" stroke-width="1.6"/>
<rect x="214.90" y="243.64" width="3.6" height="3.6" fill="#000"/>
<line x1="242.10" y1="244.48" x2="242.10" y2="233.19" stroke="#000" stroke-width="1.6"/>
<line x1="240.00" y1="233.19" x2="244.20" y2="233.19" stroke="#000" stroke-width="1.6"/>
<rect x="240.30" y="242.68" width="3.6" height="3.6" fill="#000"/>
<line x1="267.50" y1="248.96" x2="267.50" y2="237.35" stroke="#000" stroke-width="1.6"/>
<line x1="265.40" y1="237.35" x2="269.60" y2="237.35" stroke="#000" stroke-width="1.6"/>
<rect x="265.70" y="247.16" width="3.6" height="3.6" fill="#000"/>
<line x1="292.90" y1="227.66" x2="292.90" y2="203.06" stroke="#000" stroke-width="1.6"/>
<line x1="290.80" y1="203.06" x2="295.00" y2="203.06" stroke="#000" stroke-width="1.6"/>
<rect x="291.10" y="225.86" width="3.6" height="3.6" fill="#000"/>
<text x="192.60" y="238.70" font-family="'Liberation Sans', sans-serif" font-size="6.15" font-weight="bold" font-style="normal" text-anchor="middle" fill="#000" stroke="#000" stroke-width="0.15" transform="rotate(-90 192.60 238.70)" >Clinical score</text>
<text x="308.60" y="212.30" font-family="'Liberation Sans', sans-serif" font-size="6.0" font-weight="normal" font-style="normal" text-anchor="start" fill="#262626" textLength="17.60" lengthAdjust="spacingAndGlyphs" ><tspan font-style="italic">P</tspan> = .03</text>
<line x1="348.50" y1="195.60" x2="348.50" y2="281.40" stroke="#000" stroke-width="1.2"/>
<line x1="347.90" y1="280.80" x2="477.00" y2="280.80" stroke="#000" stroke-width="1.2"/>
<line x1="345.70" y1="280.80" x2="348.50" y2="280.80" stroke="#000" stroke-width="1"/>
<text x="345.30" y="283.00" font-family="'Liberation Sans', sans-serif" font-size="6.0" font-weight="bold" font-style="normal" text-anchor="end" fill="#000" stroke="#000" stroke-width="0.15" >0</text>
<line x1="345.70" y1="259.50" x2="348.50" y2="259.50" stroke="#000" stroke-width="1"/>
<text x="345.30" y="261.70" font-family="'Liberation Sans', sans-serif" font-size="6.0" font-weight="bold" font-style="normal" text-anchor="end" fill="#000" stroke="#000" stroke-width="0.15" >2</text>
<line x1="345.70" y1="238.20" x2="348.50" y2="238.20" stroke="#000" stroke-width="1"/>
<text x="345.30" y="240.40" font-family="'Liberation Sans', sans-serif" font-size="6.0" font-weight="bold" font-style="normal" text-anchor="end" fill="#000" stroke="#000" stroke-width="0.15" >4</text>
<line x1="345.70" y1="216.90" x2="348.50" y2="216.90" stroke="#000" stroke-width="1"/>
<text x="345.30" y="219.10" font-family="'Liberation Sans', sans-serif" font-size="6.0" font-weight="bold" font-style="normal" text-anchor="end" fill="#000" stroke="#000" stroke-width="0.15" >6</text>
<line x1="345.70" y1="195.60" x2="348.50" y2="195.60" stroke="#000" stroke-width="1"/>
<text x="345.30" y="197.80" font-family="'Liberation Sans', sans-serif" font-size="6.0" font-weight="bold" font-style="normal" text-anchor="end" fill="#000" stroke="#000" stroke-width="0.15" >8</text>
<line x1="361.70" y1="280.80" x2="361.70" y2="283.30" stroke="#000" stroke-width="1"/>
<text x="362.00" y="289.90" font-family="'Liberation Sans', sans-serif" font-size="6.0" font-weight="bold" font-style="normal" text-anchor="middle" fill="#000" stroke="#000" stroke-width="0.15" >2</text>
<line x1="387.10" y1="280.80" x2="387.10" y2="283.30" stroke="#000" stroke-width="1"/>
<text x="387.40" y="289.90" font-family="'Liberation Sans', sans-serif" font-size="6.0" font-weight="bold" font-style="normal" text-anchor="middle" fill="#000" stroke="#000" stroke-width="0.15" >5</text>
<line x1="412.50" y1="280.80" x2="412.50" y2="283.30" stroke="#000" stroke-width="1"/>
<text x="412.80" y="289.90" font-family="'Liberation Sans', sans-serif" font-size="6.0" font-weight="bold" font-style="normal" text-anchor="middle" fill="#000" stroke="#000" stroke-width="0.15" >10</text>
<line x1="437.90" y1="280.80" x2="437.90" y2="283.30" stroke="#000" stroke-width="1"/>
<text x="438.20" y="289.90" font-family="'Liberation Sans', sans-serif" font-size="6.0" font-weight="bold" font-style="normal" text-anchor="middle" fill="#000" stroke="#000" stroke-width="0.15" >15</text>
<line x1="463.30" y1="280.80" x2="463.30" y2="283.30" stroke="#000" stroke-width="1"/>
<text x="463.60" y="289.90" font-family="'Liberation Sans', sans-serif" font-size="6.0" font-weight="bold" font-style="normal" text-anchor="middle" fill="#000" stroke="#000" stroke-width="0.15" >20</text>
<text x="388.30" y="299.20" font-family="'Liberation Sans', sans-serif" font-size="5.7" font-weight="bold" font-style="normal" text-anchor="start" fill="#000" stroke="#000" stroke-width="0.15" >years after HSCT</text>
<text x="362.20" y="175.90" font-family="'Liberation Sans', sans-serif" font-size="6.85" font-weight="normal" font-style="normal" text-anchor="start" fill="#262626" textLength="69.00" lengthAdjust="spacingAndGlyphs" >Severe HPV infections</text>
<text x="382.90" y="183.30" font-family="'Liberation Sans', sans-serif" font-size="6.85" font-weight="normal" font-style="normal" text-anchor="start" fill="#262626" >excluded</text>
<polyline points="361.70,264.19 387.10,276.65 412.50,280.80 437.90,274.20 463.30,280.80" fill="none" stroke="#acacac" stroke-width="1.5" stroke-linejoin="miter" />
<line x1="361.70" y1="264.19" x2="361.70" y2="257.37" stroke="#acacac" stroke-width="1.35"/>
<line x1="359.60" y1="257.37" x2="363.80" y2="257.37" stroke="#acacac" stroke-width="1.35"/>
<rect x="360.10" y="262.59" width="3.2" height="3.2" fill="#acacac"/>
<line x1="387.10" y1="276.65" x2="387.10" y2="271.32" stroke="#acacac" stroke-width="1.35"/>
<line x1="385.00" y1="271.32" x2="389.20" y2="271.32" stroke="#acacac" stroke-width="1.35"/>
<rect x="385.50" y="275.05" width="3.2" height="3.2" fill="#acacac"/>
<rect x="410.90" y="279.20" width="3.2" height="3.2" fill="#acacac"/>
<line x1="437.90" y1="274.20" x2="437.90" y2="268.77" stroke="#acacac" stroke-width="1.35"/>
<line x1="435.80" y1="268.77" x2="440.00" y2="268.77" stroke="#acacac" stroke-width="1.35"/>
<rect x="436.30" y="272.60" width="3.2" height="3.2" fill="#acacac"/>
<rect x="461.70" y="279.20" width="3.2" height="3.2" fill="#acacac"/>
<polyline points="361.70,262.48 387.10,268.02 412.50,270.90 437.90,275.58 463.30,273.98" fill="none" stroke="#7c7c7c" stroke-width="1.5" stroke-linejoin="miter" />
<line x1="361.70" y1="262.48" x2="361.70" y2="256.20" stroke="#7c7c7c" stroke-width="1.35"/>
<line x1="359.60" y1="256.20" x2="363.80" y2="256.20" stroke="#7c7c7c" stroke-width="1.35"/>
<rect x="360.10" y="260.88" width="3.2" height="3.2" fill="#7c7c7c"/>
<line x1="387.10" y1="268.02" x2="387.10" y2="261.31" stroke="#7c7c7c" stroke-width="1.35"/>
<line x1="385.00" y1="261.31" x2="389.20" y2="261.31" stroke="#7c7c7c" stroke-width="1.35"/>
<rect x="385.50" y="266.42" width="3.2" height="3.2" fill="#7c7c7c"/>
<line x1="412.50" y1="270.90" x2="412.50" y2="265.46" stroke="#7c7c7c" stroke-width="1.35"/>
<line x1="410.40" y1="265.46" x2="414.60" y2="265.46" stroke="#7c7c7c" stroke-width="1.35"/>
<rect x="410.90" y="269.30" width="3.2" height="3.2" fill="#7c7c7c"/>
<line x1="437.90" y1="275.58" x2="437.90" y2="270.15" stroke="#7c7c7c" stroke-width="1.35"/>
<line x1="435.80" y1="270.15" x2="440.00" y2="270.15" stroke="#7c7c7c" stroke-width="1.35"/>
<rect x="436.30" y="273.98" width="3.2" height="3.2" fill="#7c7c7c"/>
<line x1="463.30" y1="273.98" x2="463.30" y2="269.94" stroke="#7c7c7c" stroke-width="1.35"/>
<line x1="461.20" y1="269.94" x2="465.40" y2="269.94" stroke="#7c7c7c" stroke-width="1.35"/>
<rect x="461.70" y="272.38" width="3.2" height="3.2" fill="#7c7c7c"/>
<polyline points="361.70,245.44 387.10,244.48 412.50,249.92 437.90,227.66" fill="none" stroke="#000" stroke-width="1.8" stroke-linejoin="miter" />
<line x1="361.70" y1="245.44" x2="361.70" y2="236.07" stroke="#000" stroke-width="1.6"/>
<line x1="359.60" y1="236.07" x2="363.80" y2="236.07" stroke="#000" stroke-width="1.6"/>
<rect x="359.90" y="243.64" width="3.6" height="3.6" fill="#000"/>
<line x1="387.10" y1="244.48" x2="387.10" y2="233.19" stroke="#000" stroke-width="1.6"/>
<line x1="385.00" y1="233.19" x2="389.20" y2="233.19" stroke="#000" stroke-width="1.6"/>
<rect x="385.30" y="242.68" width="3.6" height="3.6" fill="#000"/>
<line x1="412.50" y1="249.92" x2="412.50" y2="237.35" stroke="#000" stroke-width="1.6"/>
<line x1="410.40" y1="237.35" x2="414.60" y2="237.35" stroke="#000" stroke-width="1.6"/>
<rect x="410.70" y="248.12" width="3.6" height="3.6" fill="#000"/>
<line x1="437.90" y1="227.66" x2="437.90" y2="203.06" stroke="#000" stroke-width="1.6"/>
<line x1="435.80" y1="203.06" x2="440.00" y2="203.06" stroke="#000" stroke-width="1.6"/>
<rect x="436.10" y="225.86" width="3.6" height="3.6" fill="#000"/>
<text x="461.00" y="210.50" font-family="'Liberation Sans', sans-serif" font-size="6.0" font-weight="normal" font-style="normal" text-anchor="start" fill="#262626" textLength="18.40" lengthAdjust="spacingAndGlyphs" ><tspan font-style="italic">P</tspan> = .03</text>
<line x1="461.00" y1="217.60" x2="470.00" y2="217.60" stroke="#000" stroke-width="1.6"/>
<rect x="463.90" y="216.00" width="3.2" height="3.2" fill="#000"/>
<text x="475.30" y="219.90" font-family="'Liberation Sans', sans-serif" font-size="6.1" font-weight="normal" font-style="normal" text-anchor="start" fill="#262626" textLength="19.60" lengthAdjust="spacingAndGlyphs" >Artemis</text>
<line x1="461.00" y1="228.00" x2="470.00" y2="228.00" stroke="#7c7c7c" stroke-width="1.6"/>
<rect x="463.90" y="226.40" width="3.2" height="3.2" fill="#7c7c7c"/>
<text x="475.30" y="230.30" font-family="'Liberation Sans', sans-serif" font-size="6.1" font-weight="normal" font-style="normal" text-anchor="start" fill="#262626" textLength="44.30" lengthAdjust="spacingAndGlyphs" >γc/Jak3/RIL7α</text>
<line x1="461.00" y1="238.10" x2="470.00" y2="238.10" stroke="#acacac" stroke-width="1.6"/>
<rect x="463.90" y="236.50" width="3.2" height="3.2" fill="#acacac"/>
<text x="475.30" y="240.40" font-family="'Liberation Sans', sans-serif" font-size="6.1" font-weight="normal" font-style="normal" text-anchor="start" fill="#262626" textLength="20.40" lengthAdjust="spacingAndGlyphs" >Rag-1/2</text>
</svg>
</body></html>
